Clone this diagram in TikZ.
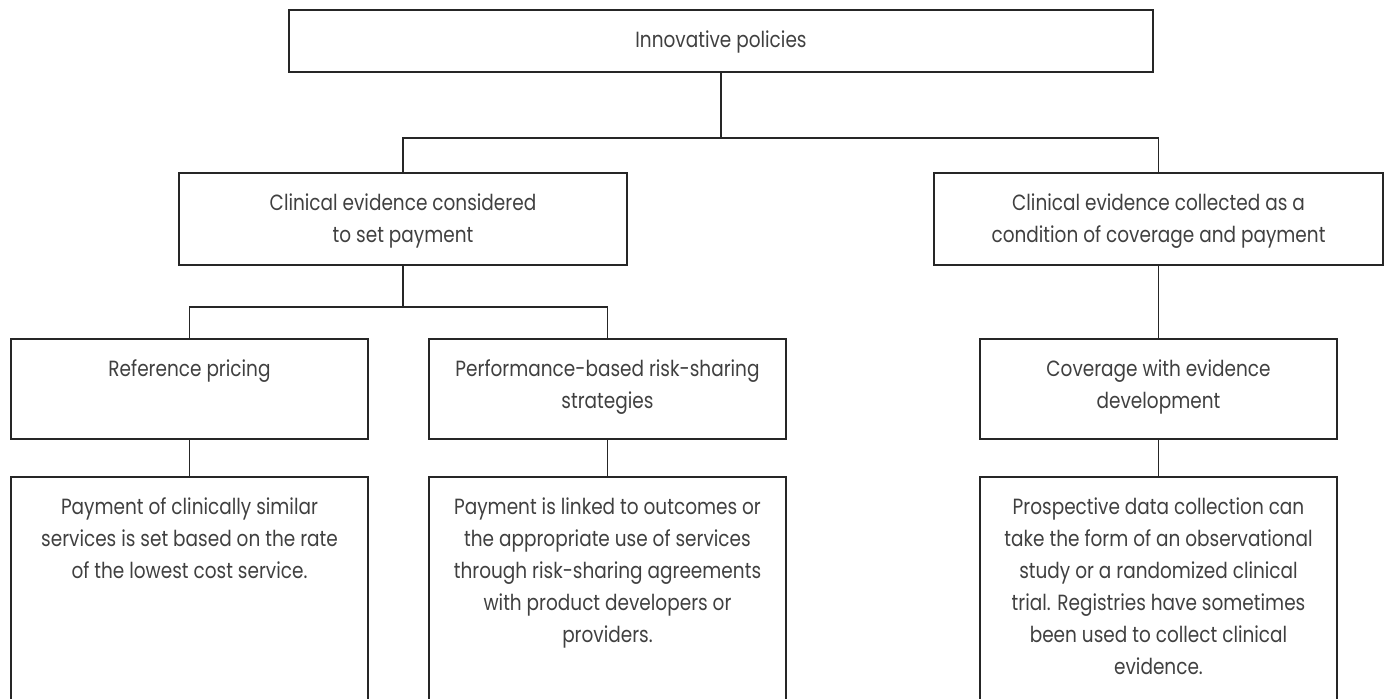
\documentclass[tikz,border=0pt]{standalone}
\usepackage{fontspec}
\setmainfont{Poppins}[FakeStretch=0.84]
\usepackage{tikz}
\usetikzlibrary{positioning,calc}

\begin{document}
\begin{tikzpicture}[x=0.5pt, y=-0.5pt, line width=0.65pt, black!85,
  txt/.style={label={[anchor=north, yshift=-10.5pt, inner sep=0pt, align=center, text=black!75, font=\fontsize{11}{16}\selectfont]north:{#1}}}]
   \clip (0,0) rectangle (1387,698);
   \begin{scope}[every node/.style={rectangle,draw=black!85,inner sep=0pt}]
    \node (top) [minimum width=432pt, minimum height=31pt, txt={Innovative policies}] at (721,41) {};
    \node (l2l) [minimum width=224pt, minimum height=46pt, txt={Clinical evidence considered\\to set payment}] at (403,219) {};
    \node (l2r) [minimum width=224.5pt, minimum height=46pt, txt={Clinical evidence collected as a\\condition of coverage and payment}] at (1158.5,219) {};
    \node (l3l) [minimum width=178.5pt, minimum height=50pt, txt={Reference pricing}] at (189.5,389) {};
    \node (l3m) [minimum width=178.5pt, minimum height=50pt, txt={Performance-based risk-sharing\\strategies}] at (607.5,389) {};
    \node (l3r) [minimum width=178.5pt, minimum height=50pt, txt={Coverage with evidence\\development}] at (1158.5,389) {};
    % bottom row runs off the page
    \node (l4l) [minimum width=178.5pt, minimum height=130pt, txt={Payment of clinically similar\\services is set based on the rate\\of the lowest cost service.}] at (189.5,607) {};
    \node (l4m) [minimum width=178.5pt, minimum height=130pt, txt={Payment is linked to outcomes or\\the appropriate use of services\\through risk-sharing agreements\\with product developers or\\providers.}] at (607.5,607) {};
    \node (l4r) [minimum width=178.5pt, minimum height=130pt, txt={Prospective data collection can\\take the form of an observational\\study or a randomized clinical\\trial. Registries have sometimes\\been used to collect clinical\\evidence.}] at (1158.5,607) {};
   \end{scope}
   \coordinate (j1) at (721,138);
   \coordinate (j2) at (403,307);
   \begin{scope}[every path/.style={draw=black!85}]
    \draw (top.south) -- (j1);
    \draw (l2l.north) |- (j1) -| (l2r.north);
    \draw (l2l.south) -- (j2);
    \draw (l3l.north) |- (j2) -| (l3m.north);
    \draw (l2r.south) -- (l3r.north);
    \draw (l3l.south) -- (l4l.north);
    \draw (l3m.south) -- (l4m.north);
    \draw (l3r.south) -- (l4r.north);
   \end{scope}
\end{tikzpicture}
\end{document}
